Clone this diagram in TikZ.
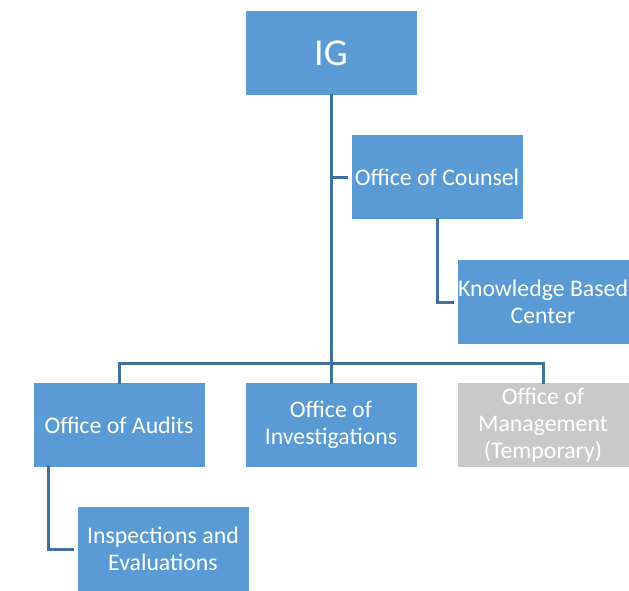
\documentclass[tikz,border=0pt]{standalone}
\usepackage{fontspec}
\setmainfont{Carlito}
\definecolor{boxblue}{HTML}{5B9BD5}
\definecolor{boxgrey}{HTML}{C9C9C9}
\definecolor{lineblue}{HTML}{41719C}
\begin{document}
\begin{tikzpicture}[x=1pt,y=-1pt,
  unit/.style={rectangle, fill=boxblue, draw=white, line width=0.8pt, minimum width=172pt, minimum height=85pt, inner sep=0pt, text=white, align=center, font=\fontsize{23.8}{27}\selectfont},
  greyunit/.style={unit, fill=boxgrey},
  conn/.style={draw=lineblue, line width=3pt}]
\useasboundingbox (0,0) rectangle (629,591);
\coordinate (bus) at (331,363);
\node[unit, font=\fontsize{38}{44}\selectfont] (ig) at (331,53) {IG};
\node[unit] (couns) at (437,177) {Office of Counsel};
\node[unit] (know) at (543,302) {Knowledge Based\\Center};
\node[unit] (aud) at (119,425) {Office of Audits};
\node[unit] (inv) at (331,425) {Office of\\Investigations};
\node[greyunit] (mgmt) at (543,425) {Office of\\Management\\(Temporary)};
\node[unit] (insp) at (163,549) {Inspections and\\Evaluations};
\draw[conn] ([yshift=2pt]ig.south) -- ([yshift=-2pt]inv.north);
\draw[conn] ([yshift=-2pt]aud.north) -- (aud.north |- bus) -- (mgmt.north |- bus) -- ([yshift=-2pt]mgmt.north);
\draw[conn] (ig.south |- couns.west) -- ([xshift=-3pt]couns.west);
\draw[conn] ([yshift=2pt]couns.south) |- ([xshift=-3pt]know.west);
\draw[conn] ([xshift=16pt,yshift=3pt]aud.south west) |- ([xshift=-3pt]insp.west);
\end{tikzpicture}
\end{document}
